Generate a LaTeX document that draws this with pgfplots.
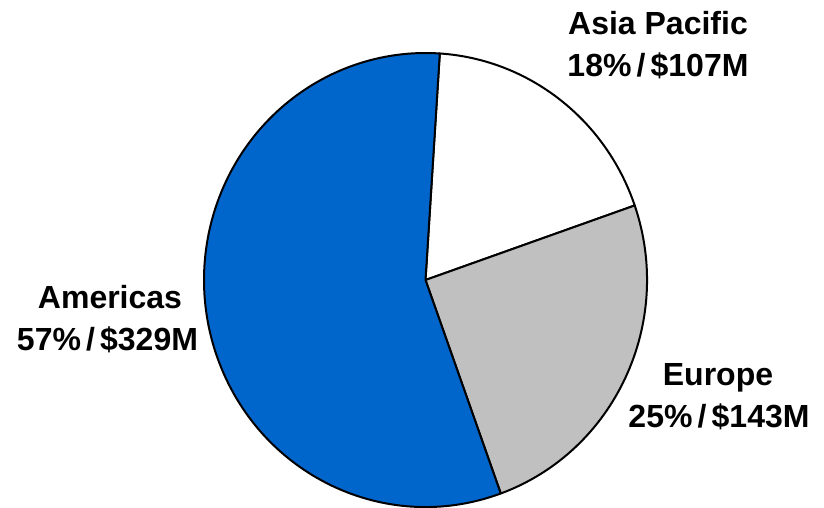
\documentclass[border=0pt]{standalone}
\usepackage{pgfplots}
\pgfplotsset{compat=1.18}
\usepackage{pgfplotstable}
\usepackage{fontspec}
\setmainfont{Liberation Sans}
\definecolor{amblue}{HTML}{0066CC}
\definecolor{eugray}{HTML}{C0C0C0}

\pgfplotstableread{
region value
Americas 329
Europe 143
AsiaPacific 107
}\piedata

\begin{document}
\begin{tikzpicture}
\pgfplotstablegetelem{0}{value}\of\piedata \let\vAm\pgfplotsretval
\pgfplotstablegetelem{1}{value}\of\piedata \let\vEu\pgfplotsretval
\pgfplotstablegetelem{2}{value}\of\piedata \let\vAp\pgfplotsretval
\pgfmathsetmacro{\tot}{\vAm+\vEu+\vAp}
\pgfmathsetmacro{\aS}{86.3}
\pgfmathsetmacro{\aA}{\aS-360*(\vAp/\tot)-0.6}
\pgfmathsetmacro{\aB}{\aA-360*(\vEu/\tot)-0.4}
\pgfmathsetmacro{\aC}{\aS-360}
\def\rx{221.5}
\def\ry{227}
\def\cx{425.5}
\def\cy{227}
\pgfmathsetmacro{\pSx}{\cx+\rx*cos(\aS)}\pgfmathsetmacro{\pSy}{\cy+\ry*sin(\aS)}
\pgfmathsetmacro{\pAx}{\cx+\rx*cos(\aA)}\pgfmathsetmacro{\pAy}{\cy+\ry*sin(\aA)}
\pgfmathsetmacro{\pBx}{\cx+\rx*cos(\aB)}\pgfmathsetmacro{\pBy}{\cy+\ry*sin(\aB)}
\def\sl{\hspace{0.16em}/\hspace{0.16em}}
\begin{axis}[hide axis, scale only axis, width=824pt, height=507pt,
  xmin=0, xmax=824, ymin=0, ymax=507, clip=false]
% Asia Pacific
\filldraw[fill=white, draw=black, line width=2pt, line join=round]
  (axis cs:\cx,\cy) -- (axis cs:\pSx,\pSy)
  arc[start angle=\aS, end angle=\aA, x radius=\rx pt, y radius=\ry pt] -- cycle;
% Europe
\filldraw[fill=eugray, draw=black, line width=2pt, line join=round]
  (axis cs:\cx,\cy) -- (axis cs:\pAx,\pAy)
  arc[start angle=\aA, end angle=\aB, x radius=\rx pt, y radius=\ry pt] -- cycle;
% Americas
\filldraw[fill=amblue, draw=black, line width=2pt, line join=round]
  (axis cs:\cx,\cy) -- (axis cs:\pBx,\pBy)
  arc[start angle=\aB, end angle=\aC, x radius=\rx pt, y radius=\ry pt] -- cycle;
\tikzset{lab/.style={anchor=base, inner sep=0pt, font=\bfseries\fontsize{32}{38}\selectfont}}
\node[lab] at (axis cs:658,472) {Asia Pacific};
\node[lab] at (axis cs:658,430) {18\%\sl\$107M};
\node[lab] at (axis cs:110,199) {Americas};
\node[lab] at (axis cs:107.5,157) {57\%\sl\$329M};
\node[lab] at (axis cs:718,122) {Europe};
\node[lab] at (axis cs:719,80) {25\%\sl\$143M};
\end{axis}
\pgfresetboundingbox
\path (0,0) rectangle (824pt,507pt);
\end{tikzpicture}
\end{document}
